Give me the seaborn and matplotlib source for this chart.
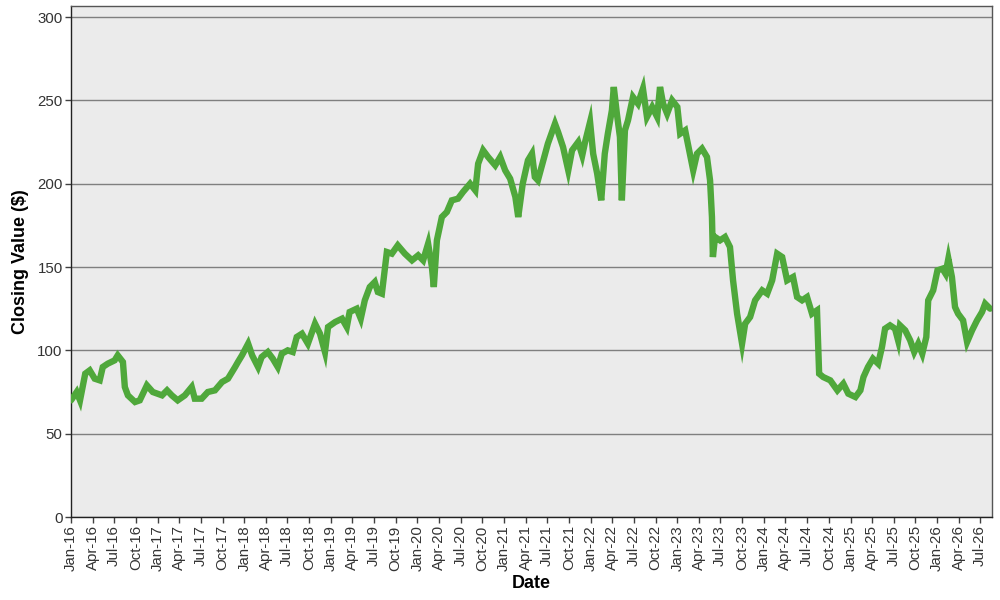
import matplotlib
matplotlib.use("Agg")
import matplotlib.pyplot as plt
import matplotlib.dates as mdates
import seaborn as sns
import pandas as pd
import numpy as np

dates = [
    "2016-01-01", "2016-01-25", "2016-02-08", "2016-03-01", "2016-03-20", "2016-04-10",
    "2016-05-01", "2016-05-14", "2016-06-04", "2016-07-03", "2016-07-16", "2016-08-07",
    "2016-08-15", "2016-08-28", "2016-09-27", "2016-10-17", "2016-11-16", "2016-12-11",
    "2017-01-19", "2017-02-09", "2017-03-01", "2017-03-26", "2017-04-25", "2017-05-24",
    "2017-06-06", "2017-07-05", "2017-07-31", "2017-08-30", "2017-09-29", "2017-10-24",
    "2017-11-23", "2017-12-05", "2017-12-22", "2018-01-17", "2018-02-03", "2018-02-28",
    "2018-03-15", "2018-04-10", "2018-05-01", "2018-05-22", "2018-06-08", "2018-07-03",
    "2018-07-24", "2018-08-10", "2018-09-01", "2018-09-26", "2018-10-26", "2018-11-16",
    "2018-12-07", "2018-12-20", "2019-01-19", "2019-02-17", "2019-03-09", "2019-03-21",
    "2019-04-20", "2019-05-07", "2019-05-24", "2019-06-14", "2019-07-05", "2019-07-18",
    "2019-08-04", "2019-08-16", "2019-08-25", "2019-09-15", "2019-10-10", "2019-11-09",
    "2019-12-09", "2020-01-04", "2020-01-25", "2020-02-15", "2020-03-02", "2020-03-10",
    "2020-03-23", "2020-04-13", "2020-05-04", "2020-05-25", "2020-06-20", "2020-07-11",
    "2020-08-10", "2020-09-01", "2020-09-13", "2020-10-04", "2020-10-25", "2020-11-24",
    "2020-12-15", "2021-01-05", "2021-01-26", "2021-02-17", "2021-03-01", "2021-03-20",
    "2021-04-11", "2021-04-28", "2021-05-10", "2021-05-23", "2021-06-13", "2021-07-04",
    "2021-08-03", "2021-08-16", "2021-09-06", "2021-09-28", "2021-10-14", "2021-11-09",
    "2021-11-26", "2021-12-08", "2021-12-29", "2022-01-11", "2022-01-28", "2022-02-14",
    "2022-03-01", "2022-03-14", "2022-03-31", "2022-04-08", "2022-04-21", "2022-05-04",
    "2022-05-12", "2022-05-25", "2022-06-07", "2022-06-28", "2022-07-19", "2022-08-09",
    "2022-08-26", "2022-09-17", "2022-10-08", "2022-10-20", "2022-11-02", "2022-11-19",
    "2022-12-10", "2023-01-01", "2023-01-13", "2023-02-03", "2023-02-20", "2023-03-09",
    "2023-03-25", "2023-04-15", "2023-05-06", "2023-05-19", "2023-05-27", "2023-05-31",
    "2023-06-09", "2023-06-30", "2023-07-21", "2023-08-11", "2023-08-24", "2023-09-10",
    "2023-10-01", "2023-10-14", "2023-11-04", "2023-11-25", "2023-12-25", "2024-01-15",
    "2024-02-05", "2024-02-26", "2024-03-18", "2024-04-08", "2024-05-03", "2024-05-20",
    "2024-06-10", "2024-07-01", "2024-07-22", "2024-08-12", "2024-08-21", "2024-09-07",
    "2024-10-07", "2024-11-06", "2024-12-01", "2024-12-22", "2025-01-21", "2025-02-11",
    "2025-02-24", "2025-03-15", "2025-04-05", "2025-04-27", "2025-05-13", "2025-05-26",
    "2025-06-16", "2025-07-07", "2025-07-20", "2025-07-28", "2025-08-19", "2025-09-09",
    "2025-09-26", "2025-10-13", "2025-10-30", "2025-11-16", "2025-11-24", "2025-12-15",
    "2026-01-02", "2026-01-23", "2026-02-05", "2026-02-17", "2026-03-04", "2026-03-17",
    "2026-03-30", "2026-04-20", "2026-05-07", "2026-05-28", "2026-06-18", "2026-07-09",
    "2026-07-22", "2026-08-12",
]

closing_values = [
    70, 75, 70, 86, 88, 83,
    82, 90, 92, 94, 97, 93,
    78, 73, 69, 70, 79, 75,
    73, 76, 73, 70, 73, 78,
    71, 71, 75, 76, 81, 83,
    90, 93, 97, 104, 97, 90,
    96, 99, 95, 90, 98, 100,
    99, 108, 110, 104, 116, 110,
    99, 114, 117, 119, 114, 123,
    125, 119, 130, 138, 141, 135,
    134, 148, 159, 158, 163, 158,
    154, 157, 154, 164, 150, 138,
    166, 180, 183, 190, 191, 195,
    200, 196, 212, 220, 216, 211,
    216, 208, 203, 192, 180, 200,
    214, 218, 204, 202, 213, 224,
    236, 231, 222, 208, 220, 225,
    217, 225, 237, 218, 206, 190,
    218, 230, 244, 258, 242, 228,
    190, 232, 238, 252, 248, 257,
    240, 246, 240, 258, 248, 242,
    250, 246, 230, 232, 220, 208,
    218, 221, 216, 202, 180, 156,
    168, 166, 168, 162, 142, 122,
    104, 116, 120, 130, 136, 134,
    142, 158, 156, 142, 144, 132,
    130, 132, 122, 124, 86, 84,
    82, 76, 80, 74, 72, 76,
    84, 90, 95, 92, 102, 113,
    115, 113, 106, 115, 112, 106,
    99, 104, 98, 108, 130, 136,
    148, 149, 146, 155, 144, 126,
    122, 118, 105, 112, 118, 123,
    128, 125,
]

y_ticks = [0, 50, 100, 150, 200, 250, 300]
x_label = "Date"
y_label = "Closing Value ($)"

df = pd.DataFrame({"Date": pd.to_datetime(dates), "Close": closing_values})

sns.set_theme(style="white")
plt.rcParams["font.family"] = ["Liberation Sans", "DejaVu Sans"]

fig = plt.figure(figsize=(10, 6), dpi=100)
ax = fig.add_axes([0.071, 0.1383, 0.921, 0.8517])
ax.set_facecolor("#EBEBEB")

sns.lineplot(data=df, x="Date", y="Close", ax=ax, color="#4FA83B",
             linewidth=4.6, solid_joinstyle="miter", zorder=3)

ax.set_ylim(0, 306.6)
ax.set_yticks(y_ticks)
ax.set_xlim(pd.Timestamp("2016-01-01"), pd.Timestamp("2026-08-20"))
ax.xaxis.set_major_locator(mdates.MonthLocator(bymonth=[1, 4, 7, 10]))
ax.xaxis.set_major_formatter(mdates.DateFormatter("%b-%y"))

ax.yaxis.grid(True, color="#7F7F7F", linewidth=1.0, zorder=1)
ax.xaxis.grid(False)
ax.set_axisbelow(True)

ax.tick_params(axis="x", labelrotation=90, labelsize=10.8, length=4, width=1,
               color="#404040", pad=2, direction="out", bottom=True)
ax.tick_params(axis="y", labelsize=10.8, length=4, width=1, color="#404040",
               pad=2, direction="out", left=True)
for lab in ax.get_xticklabels() + ax.get_yticklabels():
    lab.set_color("#333333")

for side in ["top", "right"]:
    ax.spines[side].set_color("#555555")
    ax.spines[side].set_linewidth(1)
for side in ["left", "bottom"]:
    ax.spines[side].set_color("#222222")
    ax.spines[side].set_linewidth(1)

ax.set_xlabel(x_label, fontsize=13, fontweight="bold", color="black", labelpad=3)
ax.set_ylabel(y_label, fontsize=13, fontweight="bold", color="black", labelpad=6)

fig.savefig("out.png", dpi=100, facecolor="white")
